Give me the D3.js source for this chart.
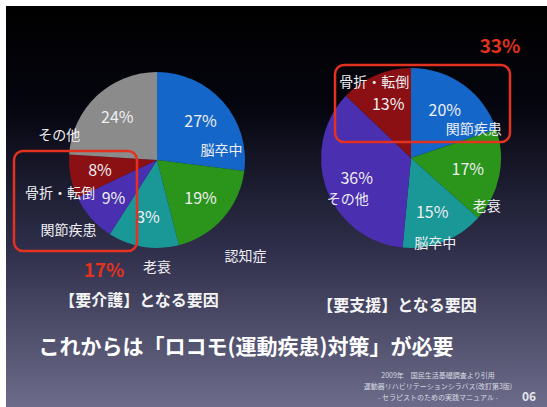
<!DOCTYPE html>
<html>
<head>
<meta charset="utf-8">
<script src="https://cdn.jsdelivr.net/npm/d3@7"></script>
<style>
  body { margin: 0; background: #fff; }
  svg text { font-family: "Noto Sans CJK JP", "Noto Sans", sans-serif; }
</style>
</head>
<body>
<svg id="chart"></svg>
<script>
// data: 要介護 (left pie)
const careNames = ["脳卒中", "認知症", "老衰", "関節疾患", "骨折・転倒", "その他"];
const careValues = [27, 19, 13, 9, 8, 24];
const careLabels = ["27%", "19%", "3%", "9%", "8%", "24%"];

// data: 要支援 (right pie)
const supportNames = ["関節疾患", "老衰", "脳卒中", "その他", "骨折・転倒"];
const supportValues = [20, 17, 15, 36, 13];
const supportLabels = ["20%", "17%", "15%", "36%", "13%"];

const colorByName = {
    "脳卒中": "#1466c8",
    "認知症": "#2b951b",
    "老衰": "#1a9797",
    "関節疾患": "#4a2fb0",
    "骨折・転倒": "#8a1014",
    "その他": "#8b8b8b"
};
// right pie uses its own colour order (by position)
const supportColors = ["#1466c8", "#2b951b", "#1a9797", "#4a2fb0", "#8a1014"];

const width = 547;
const height = 407;

let svg = d3.select("#chart")
    .attr("width", width)
    .attr("height", height);

// slide background
let defs = svg.append("defs");
let bg = defs.append("linearGradient")
    .attr("id", "bg")
    .attr("x1", 0).attr("y1", 0).attr("x2", 0).attr("y2", 1);
bg.append("stop").attr("offset", "0%").attr("stop-color", "#000000");
bg.append("stop").attr("offset", "25%").attr("stop-color", "#05050f");
bg.append("stop").attr("offset", "60%").attr("stop-color", "#2e2e4a");
bg.append("stop").attr("offset", "100%").attr("stop-color", "#6c6c8a");

svg.append("rect")
    .attr("x", 6).attr("y", 6)
    .attr("width", width - 6).attr("height", height - 6)
    .attr("fill", "url(#bg)");

// draw one pie with its labels
function drawPie(cx, cy, r, values, colors, pctLabels, names, nameOffsets) {
    let pie = d3.pie().sort(null).value(d => d);
    let arcs = pie(values);
    let arc = d3.arc().innerRadius(0).outerRadius(r);
    let labelArc = d3.arc().innerRadius(58).outerRadius(58);

    let g = svg.append("g").attr("transform", `translate(${cx},${cy})`);

    g.selectAll("path")
        .data(arcs)
        .enter()
        .append("path")
        .attr("d", arc)
        .attr("fill", (d, i) => colors[i]);

    g.selectAll("text.pct")
        .data(arcs)
        .enter()
        .append("text")
        .attr("class", "pct")
        .attr("x", d => labelArc.centroid(d)[0])
        .attr("y", d => labelArc.centroid(d)[1])
        .attr("dy", "0.35em")
        .attr("text-anchor", "middle")
        .attr("fill", "#eeeef2")
        .attr("font-size", 16)
        .text((d, i) => pctLabels[i]);

    g.selectAll("text.name")
        .data(arcs)
        .enter()
        .append("text")
        .attr("class", "name")
        .attr("x", (d, i) => labelArc.centroid(d)[0] + nameOffsets[i][0])
        .attr("y", (d, i) => labelArc.centroid(d)[1] + nameOffsets[i][1])
        .attr("dy", "0.35em")
        .attr("text-anchor", "middle")
        .attr("fill", "#eeeef2")
        .attr("font-size", 14)
        .text((d, i) => names[i]);
}

drawPie(157, 160, 88, careValues,
    careNames.map(n => colorByName[n]), careLabels, careNames,
    [[21, 28], [45, 58], [9, 50], [-45, 32], [-40, 22], [-58, 17]]);

drawPie(411, 158, 90, supportValues,
    supportColors, supportLabels, supportNames,
    [[29, 18], [19, 36], [3, 31], [-9, 21], [-14, -23]]);

// red highlight boxes
const red = "#e3321f";
svg.append("rect")
    .attr("x", 14).attr("y", 151).attr("width", 123).attr("height", 100)
    .attr("rx", 9)
    .attr("fill", "none").attr("stroke", red).attr("stroke-width", 2.5);
svg.append("rect")
    .attr("x", 335).attr("y", 65).attr("width", 175).attr("height", 77)
    .attr("rx", 9)
    .attr("fill", "none").attr("stroke", red).attr("stroke-width", 2.5);

svg.append("text")
    .attr("x", 104).attr("y", 277)
    .attr("text-anchor", "middle")
    .attr("fill", red).attr("font-size", 19).attr("font-weight", "bold")
    .text("17%");
svg.append("text")
    .attr("x", 500).attr("y", 53)
    .attr("text-anchor", "middle")
    .attr("fill", red).attr("font-size", 19).attr("font-weight", "bold")
    .text("33%");

// titles
svg.append("text")
    .attr("x", 139).attr("y", 306)
    .attr("text-anchor", "middle")
    .attr("fill", "#f4f4f4").attr("font-size", 16).attr("font-weight", "bold")
    .text("【要介護】となる要因");
svg.append("text")
    .attr("x", 397).attr("y", 311)
    .attr("text-anchor", "middle")
    .attr("fill", "#f4f4f4").attr("font-size", 16).attr("font-weight", "bold")
    .text("【要支援】となる要因");

svg.append("text")
    .attr("x", 246).attr("y", 354)
    .attr("text-anchor", "middle")
    .attr("fill", "#ffffff").attr("font-size", 21).attr("font-weight", "bold")
    .text("これからは「ロコモ(運動疾患)対策」が必要");

// source note
const sourceLines = [
    "2009年　国民生活基礎調査より引用",
    "運動器リハビリテーションシラバス(改訂第3版)",
    "- セラピストのための実践マニュアル -"
];
svg.selectAll("text.src")
    .data(sourceLines)
    .enter()
    .append("text")
    .attr("class", "src")
    .attr("x", 438)
    .attr("y", (d, i) => 378 + i * 11)
    .attr("text-anchor", "middle")
    .attr("fill", "#d8d8e0").attr("font-size", 7)
    .text(d => d);

svg.append("text")
    .attr("x", 529).attr("y", 401)
    .attr("text-anchor", "middle")
    .attr("fill", "#e6e6ea").attr("font-size", 12).attr("font-weight", "bold")
    .text("06");
</script>
</body>
</html>
